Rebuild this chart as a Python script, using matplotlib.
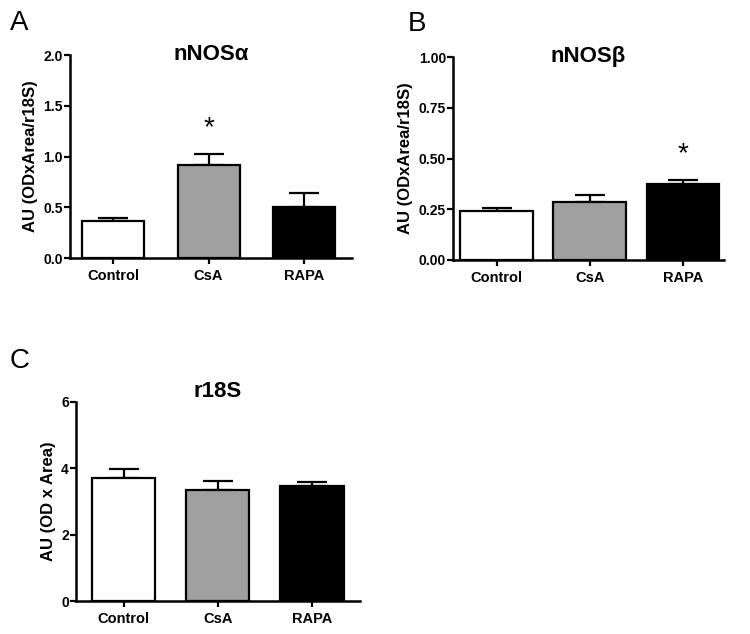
import matplotlib
matplotlib.use('Agg')
import matplotlib.pyplot as plt

plt.rcParams['font.family'] = ['Liberation Sans', 'DejaVu Sans']

groups = ['Control', 'CsA', 'RAPA']
colors = ['white', '#a0a0a0', 'black']

# nNOS alpha
a_mean = [0.37, 0.92, 0.50]
a_err = [0.02, 0.11, 0.145]
# nNOS beta
b_mean = [0.24, 0.285, 0.375]
b_err = [0.017, 0.035, 0.02]
# r18S
c_mean = [3.70, 3.35, 3.47]
c_err = [0.27, 0.27, 0.11]

a_ticks = [0, 0.5, 1.0, 1.5, 2.0]
a_labels = ['0.0', '0.5', '1.0', '1.5', '2.0']
b_ticks = [0, 0.25, 0.5, 0.75, 1.0]
b_labels = ['0.00', '0.25', '0.50', '0.75', '1.00']
c_ticks = [0, 2, 4, 6]
c_labels = ['0', '2', '4', '6']

fig = plt.figure(figsize=(7.5, 6.34), dpi=100)


def panel(rect, mean, err, ylim, yticks, ylabels, ylabel, title, title_y,
          xlim, width, star=None):
    ax = fig.add_axes(rect)
    x = list(range(len(groups)))
    ax.bar(x, mean, width=width, color=colors, edgecolor='black', linewidth=1.6, zorder=2)
    ax.errorbar(x, mean, yerr=[[0] * 3, err], fmt='none', ecolor='black',
                elinewidth=1.6, capsize=11, capthick=1.6, zorder=1)
    ax.set_xlim(*xlim)
    ax.set_ylim(*ylim)
    ax.set_yticks(yticks)
    ax.set_yticklabels(ylabels, fontweight='bold', fontsize=10)
    ax.set_xticks(x)
    ax.set_xticklabels(groups, fontweight='bold', fontsize=10.5)
    ax.tick_params(axis='x', length=4, width=1.6, pad=4)
    ax.tick_params(axis='y', length=4, width=1.6, pad=1)
    for s in ['top', 'right']:
        ax.spines[s].set_visible(False)
    for s in ['left', 'bottom']:
        ax.spines[s].set_linewidth(1.8)
    ax.set_ylabel(ylabel, fontweight='bold', fontsize=12, labelpad=4)
    ax.text(0.5, title_y, title, transform=ax.transAxes, ha='center', va='baseline',
            fontweight='bold', fontsize=16)
    if star is not None:
        ax.text(star[0], star[1], '*', ha='center', va='center', fontsize=20)
    return ax


panel([0.0933, 0.593, 0.376, 0.320], a_mean, a_err, (0, 2.0), a_ticks, a_labels,
      'AU (ODxArea/r18S)', 'nNOS\u03b1', 0.975, (-0.45, 2.5), 0.65, star=(1, 1.28))
panel([0.604, 0.590, 0.361, 0.320], b_mean, b_err, (0, 1.0), b_ticks, b_labels,
      'AU (ODxArea/r18S)', 'nNOS\u03b2', 0.975, (-0.47, 2.44), 0.78, star=(2, 0.52))
panel([0.101, 0.052, 0.379, 0.314], c_mean, c_err, (0, 6), c_ticks, c_labels,
      'AU (OD x Area)', 'r18S', 1.025, (-0.51, 2.51), 0.67)

fig.text(0.013, 0.964, 'A', fontsize=20, va='center')
fig.text(0.543, 0.962, 'B', fontsize=20, va='center')
fig.text(0.013, 0.431, 'C', fontsize=20, va='center')

fig.savefig('out.png', dpi=100)
